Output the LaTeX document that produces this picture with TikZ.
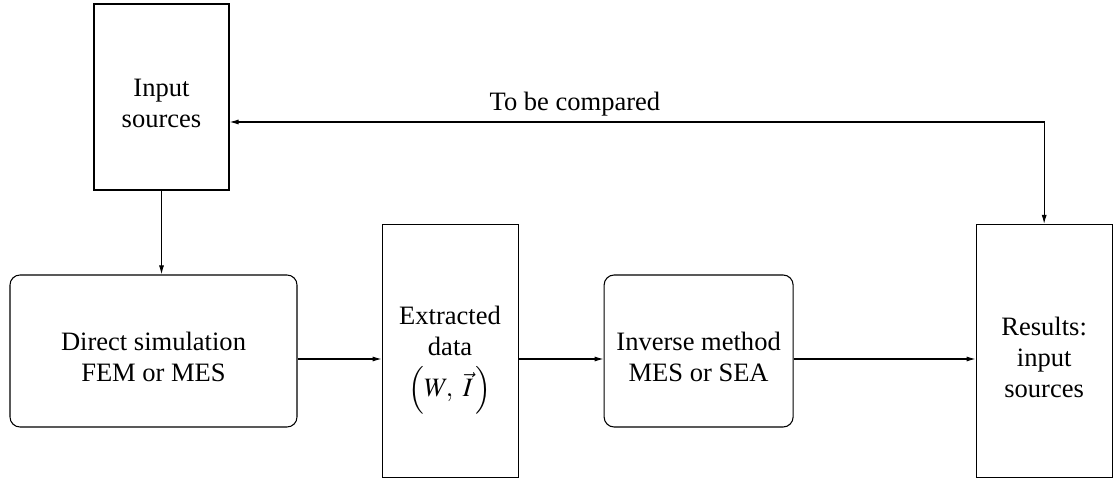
\documentclass[tikz,border=0pt]{standalone}
\usepackage{amsmath}
\usepackage{mathptmx}
\usepackage{fontspec}
\setmainfont{Liberation Serif}
\usetikzlibrary{positioning, arrows.meta}

\newcommand{\topgap}[1]{\rule{0pt}{#1}}

\begin{document}
\begin{tikzpicture}[
    squarebox/.style={rectangle, draw=black, line width=0.6pt, align=center, inner sep=0pt},
    roundbox/.style={rectangle, rounded corners=0.2cm, draw=black, line width=0.6pt, align=center, inner sep=0pt, minimum width=5.74cm, minimum height=3.04cm},
    flow/.style={line width=0.6pt, -{Latex[length=1.8mm, width=1mm]}},
    font=\fontsize{15.1}{17.6}\selectfont
]
\useasboundingbox (0,0) rectangle (22.26,-9.62);

\node[squarebox, minimum width=2.7cm, minimum height=3.72cm](inp) at (3.23,-1.94){\topgap{0.62cm}Input\\sources};
\node[roundbox](dsim) at (3.07,-7.02){\topgap{0.6cm}Direct simulation\\FEM or MES};
\node[squarebox, minimum width=2.72cm, minimum height=5.06cm](ext)[right = 1.68cm of dsim]{\topgap{0.72cm}Extracted\\data\\[6pt]$\Bigl(W,\ \vec{I}\,\Bigr)$};
\node[roundbox, minimum width=3.78cm](inv)[right = 1.7cm of ext]{\topgap{0.6cm}Inverse method\\MES or SEA};
\node[squarebox, minimum width=2.72cm, minimum height=5.06cm](res)[right = 3.64cm of inv]{\topgap{0.64cm}Results:\\input\\sources};

\draw[flow] (inp.south) -- (inp.south |- dsim.north);
\draw[flow] ([yshift=-0.16cm]dsim.east) -- ([yshift=-0.16cm]ext.west);
\draw[flow] ([yshift=-0.16cm]ext.east) -- ([yshift=-0.16cm]inv.west);
\draw[flow] ([yshift=-0.16cm]inv.east) -- ([yshift=-0.16cm]res.west);

% feedback loop
\draw[flow, {Latex[length=1.8mm, width=1mm]}-{Latex[length=1.8mm, width=1mm]}] ([yshift=-0.5cm]inp.east) -| (res.north)
    node[pos=0.212, above, inner sep=3pt]{To be compared};
\end{tikzpicture}
\end{document}
